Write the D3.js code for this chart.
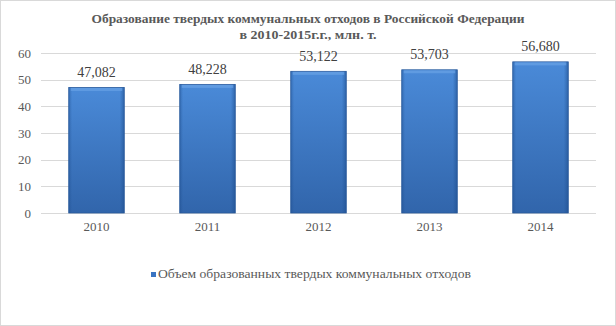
<!DOCTYPE html>
<html><head><meta charset="utf-8">
<script src="https://cdn.jsdelivr.net/npm/d3@7"></script>
<style>body{margin:0;background:#fff}svg{display:block}svg text{font-family:"Liberation Serif","Times New Roman","DejaVu Serif",serif}</style>
</head><body>
<script>
const categories = ["2010","2011","2012","2013","2014"];
const values = [47.082, 48.228, 53.122, 53.703, 56.680];
const valueLabels = ["47,082","48,228","53,122","53,703","56,680"];
const yTicks = [0,10,20,30,40,50,60];
const titleLines = ["Образование твердых коммунальных отходов в Российской Федерации","в 2010-2015г.г., млн. т."];
const legendLabel = "Объем образованных твердых коммунальных  отходов";

const W=616,H=326;
const svg=d3.select("body").append("svg").attr("width",W).attr("height",H);
svg.append("rect").attr("x",0.5).attr("y",0.5).attr("width",W-1).attr("height",H-1).attr("fill","#fff").attr("stroke","#d9d9d9");
const defs=svg.append("defs");
const g1=defs.append("linearGradient").attr("id","bg").attr("x1",0).attr("y1",0).attr("x2",0).attr("y2",1);
g1.append("stop").attr("offset","0%").attr("stop-color","#4a8ad8");
g1.append("stop").attr("offset","100%").attr("stop-color","#3165ab");
const g2=defs.append("linearGradient").attr("id","bh").attr("x1",0).attr("y1",0).attr("x2",1).attr("y2",0);
g2.append("stop").attr("offset","0%").attr("stop-color","#1f4f8f").attr("stop-opacity",0.45);
g2.append("stop").attr("offset","6%").attr("stop-color","#1f4f8f").attr("stop-opacity",0);
g2.append("stop").attr("offset","92%").attr("stop-color","#1f4f8f").attr("stop-opacity",0);
g2.append("stop").attr("offset","100%").attr("stop-color","#1f4f8f").attr("stop-opacity",0.6);

const x=d3.scaleBand().domain(categories).range([41,596]).paddingInner(0.5).paddingOuter(0.25);
const y=d3.scaleLinear().domain([0,60]).range([213,53]);

svg.append("g").selectAll("line").data(yTicks).join("line")
 .attr("x1",41).attr("x2",596).attr("y1",d=>Math.round(y(d))+0.5).attr("y2",d=>Math.round(y(d))+0.5)
 .attr("stroke","#d9d9d9").attr("stroke-width",1);

const yAxis=svg.append("g").attr("transform","translate(41,0)").call(d3.axisLeft(y).tickValues(yTicks).tickSize(0).tickPadding(10));
yAxis.select(".domain").remove();
yAxis.attr("font-family",null);
yAxis.selectAll("text").attr("font-size",13).attr("fill","#595959");

const xAxis=svg.append("g").attr("transform","translate(0,213)").call(d3.axisBottom(x).tickSize(0).tickPadding(9));
xAxis.select(".domain").remove();
xAxis.attr("font-family",null);
xAxis.selectAll("text").attr("font-size",13).attr("fill","#595959");

const bars=svg.append("g").selectAll("g").data(categories).join("g");
bars.append("rect").attr("x",d=>x(d)).attr("width",x.bandwidth())
 .attr("y",(d,i)=>y(values[i])).attr("height",(d,i)=>y(0)-y(values[i]))
 .attr("fill","url(#bg)").attr("stroke","#2a5a9c").attr("stroke-width",0.8);
bars.append("rect").attr("x",d=>x(d)).attr("width",x.bandwidth())
 .attr("y",(d,i)=>y(values[i])).attr("height",(d,i)=>y(0)-y(values[i]))
 .attr("fill","url(#bh)");
bars.append("rect").attr("x",d=>x(d)+2).attr("width",x.bandwidth()-4)
 .attr("y",(d,i)=>y(values[i])+0.5).attr("height",3).attr("fill","#6aa3e6").attr("opacity",0.7);

svg.append("g").selectAll("text").data(categories).join("text")
 .attr("x",d=>x(d)+x.bandwidth()/2).attr("y",(d,i)=>y(values[i])-10.5)
 .attr("text-anchor","middle").attr("font-size",14).attr("fill","#404040")
 .text((d,i)=>valueLabels[i]);

svg.append("g").selectAll("text").data(titleLines).join("text")
 .attr("x",308).attr("y",(d,i)=>23+i*16).attr("text-anchor","middle")
 .attr("font-weight","bold").attr("font-size",13.5).attr("fill","#595959")
 .attr("textLength",(d,i)=>[433,137][i]).attr("lengthAdjust","spacingAndGlyphs")
 .text(d=>d);

const lg=svg.append("g");
lg.append("rect").attr("x",151).attr("y",272).attr("width",5).attr("height",5).attr("fill","#3a74c2");
lg.append("text").attr("x",158).attr("y",278).attr("font-size",13.5).attr("fill","#595959")
 .attr("textLength",313).attr("lengthAdjust","spacingAndGlyphs").text(legendLabel);
</script>
</body></html>
